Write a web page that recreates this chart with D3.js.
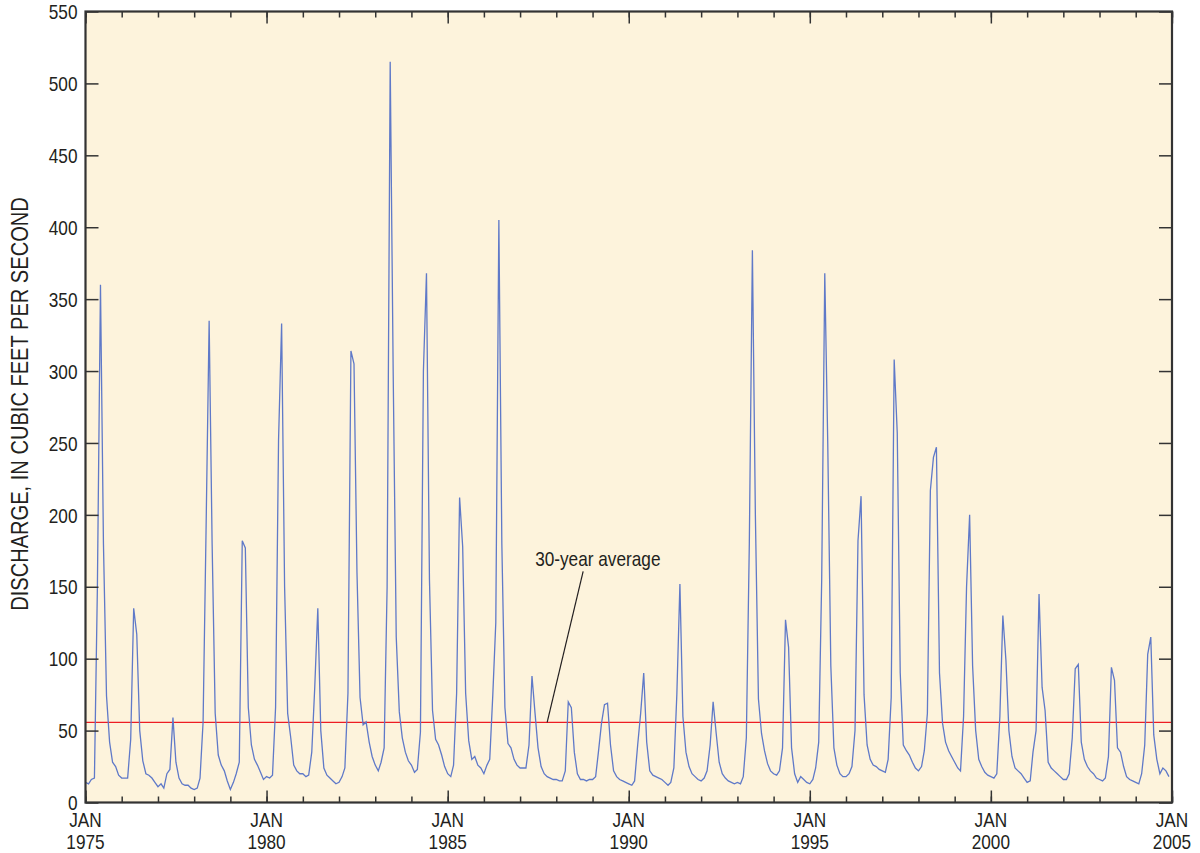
<!DOCTYPE html>
<html><head><meta charset="utf-8">
<script src="https://cdn.jsdelivr.net/npm/d3@7"></script>
<style>html,body{margin:0;padding:0;background:#fff}svg{display:block}</style>
</head><body>
<svg id="chart" width="1200" height="853"></svg>
<script>
// ---------------- data ----------------
const startYear = 1975;
const endYear = 2005;
// monthly mean discharge (cubic feet per second), Jan 1975 .. Dec 2004
const discharge = [
  /*1975*/ 14, 13, 16, 17, 150, 360, 180, 74, 42, 28, 25, 19,
  /*1976*/ 17, 17, 17, 44, 135, 117, 50, 29, 20, 19, 17, 14,
  /*1977*/ 11, 13, 10, 20, 23, 59, 28, 17, 13, 12, 12, 10,
  /*1978*/ 9, 10, 17, 56, 190, 335, 180, 62, 33, 26, 22, 15,
  /*1979*/ 9, 14, 20, 28, 182, 177, 66, 40, 30, 26, 21, 16,
  /*1980*/ 18, 17, 19, 66, 252, 333, 150, 62, 45, 26, 22, 20,
  /*1981*/ 20, 18, 19, 35, 80, 135, 50, 24, 19, 17, 15, 13,
  /*1982*/ 14, 18, 24, 76, 314, 305, 160, 73, 54, 56, 42, 32,
  /*1983*/ 26, 22, 28, 38, 150, 515, 300, 115, 63, 45, 35, 29,
  /*1984*/ 26, 21, 23, 49, 300, 368, 155, 64, 44, 40, 33, 25,
  /*1985*/ 20, 18, 26, 76, 212, 178, 76, 43, 30, 32, 26, 24,
  /*1986*/ 20, 26, 30, 75, 125, 405, 180, 66, 41, 38, 30, 26,
  /*1987*/ 24, 24, 24, 40, 88, 62, 38, 25, 20, 18, 17, 16,
  /*1988*/ 16, 15, 15, 22, 70, 66, 35, 20, 16, 16, 15, 16,
  /*1989*/ 16, 18, 35, 55, 68, 69, 40, 22, 18, 16, 15, 14,
  /*1990*/ 13, 12, 15, 40, 62, 90, 42, 22, 19, 18, 17, 16,
  /*1991*/ 14, 12, 14, 24, 75, 152, 60, 35, 25, 20, 18, 16,
  /*1992*/ 15, 17, 22, 40, 70, 48, 28, 20, 17, 15, 14, 13,
  /*1993*/ 14, 13, 18, 45, 180, 384, 200, 72, 48, 36, 27, 22,
  /*1994*/ 20, 19, 22, 38, 127, 108, 38, 20, 14, 18, 16, 14,
  /*1995*/ 13, 16, 24, 42, 155, 368, 250, 95, 38, 26, 20, 18,
  /*1996*/ 18, 20, 25, 50, 182, 213, 75, 40, 30, 26, 25, 23,
  /*1997*/ 22, 21, 30, 73, 308, 257, 90, 40, 36, 33, 28, 24,
  /*1998*/ 22, 25, 36, 62, 217, 240, 247, 90, 55, 42, 36, 32,
  /*1999*/ 28, 24, 22, 60, 150, 200, 95, 50, 30, 25, 21, 19,
  /*2000*/ 18, 17, 20, 60, 130, 99, 50, 32, 24, 22, 20, 17,
  /*2001*/ 14, 15, 35, 50, 145, 80, 64, 28, 24, 22, 20, 18,
  /*2002*/ 16, 16, 20, 45, 93, 96, 42, 30, 25, 22, 20, 17,
  /*2003*/ 16, 15, 17, 32, 94, 85, 38, 35, 25, 18, 16, 15,
  /*2004*/ 14, 13, 20, 40, 103, 115, 47, 30, 20, 24, 22, 18
];
const averageDischarge = 55.7;           // 30-year average
const yTickValues = [0, 50, 100, 150, 200, 250, 300, 350, 400, 450, 500, 550];
const yMax = 550;
const labeledYears = [1975, 1980, 1985, 1990, 1995, 2000, 2005];
const monthLabel = "JAN";
const yTitle = "DISCHARGE, IN CUBIC FEET PER SECOND";
const annotationText = "30-year average";
const annotationDate = new Date(1987, 9, 1);   // where the leader meets the average line

// ---------------- layout ----------------
const svg = d3.select("#chart");
const L = 85.5, R = 1172, T = 11.5, B = 802.5;
const INK = "#231f20";

// font: prefer a narrow face, otherwise condense a regular one
function measure(fam) {
  const t = svg.append("text").attr("font-family", fam).attr("font-size", 20).text("DISCHARGE 1975 average");
  const w = t.node().getComputedTextLength(); t.remove(); return w;
}
const wN = measure("'Liberation Sans Narrow'"), wR = measure("'Liberation Sans'");
const narrowOK = wN < wR * 0.9;
const FONT = narrowOK ? "'Liberation Sans Narrow','Arial Narrow',sans-serif" : "'Liberation Sans',Arial,sans-serif";
const SX = narrowOK ? 1 : 0.82;

function label(parent, x, y, str, anchor, size, rot) {
  return parent.append("text")
    .attr("transform", `translate(${x},${y})${rot ? ` rotate(${rot})` : ""} scale(${SX},1)`)
    .attr("text-anchor", anchor).attr("font-size", size)
    .attr("font-family", FONT).attr("fill", INK).text(str);
}

const x = d3.scaleTime().domain([new Date(startYear, 0, 1), new Date(endYear, 0, 1)]).range([L, R]);
const y = d3.scaleLinear().domain([0, yMax]).range([B, T]);

const series = discharge.map((v, i) => ({ date: new Date(startYear, i, 1), value: v }));

// plot background
svg.append("rect").attr("x", L).attr("y", T).attr("width", R - L).attr("height", B - T).attr("fill", "#fdf3dc");

// average line
svg.append("line")
  .attr("x1", L).attr("x2", R).attr("y1", y(averageDischarge)).attr("y2", y(averageDischarge))
  .attr("stroke", "#ed1c24").attr("stroke-width", 1.2);

// data line
svg.append("path").datum(series)
  .attr("fill", "none").attr("stroke", "#5f79c8").attr("stroke-width", 1.3).attr("stroke-linejoin", "miter")
  .attr("d", d3.line().x(d => x(d.date)).y(d => y(d.value)));

// axes (ticks inward)
const allYears = d3.range(startYear, endYear + 1).map(yr => new Date(yr, 0, 1));
const bigYears = labeledYears.map(yr => new Date(yr, 0, 1));
function styleAxis(g) {
  g.select(".domain").remove();
  g.selectAll(".tick line").attr("stroke", "#333").attr("stroke-width", 1.5);
}
svg.append("g").attr("transform", `translate(0,${B})`)
  .call(d3.axisBottom(x).tickValues(allYears).tickSize(-6).tickFormat("")).call(styleAxis);
svg.append("g").attr("transform", `translate(0,${B})`)
  .call(d3.axisBottom(x).tickValues(bigYears).tickSize(-12).tickFormat("")).call(styleAxis);
svg.append("g").attr("transform", `translate(0,${T})`)
  .call(d3.axisTop(x).tickValues(allYears).tickSize(-6).tickFormat("")).call(styleAxis);
svg.append("g").attr("transform", `translate(0,${T})`)
  .call(d3.axisTop(x).tickValues(bigYears).tickSize(-12).tickFormat("")).call(styleAxis);

const yAxisL = svg.append("g").attr("transform", `translate(${L},0)`)
  .call(d3.axisLeft(y).tickValues(yTickValues).tickSize(-13).tickPadding(8)).call(styleAxis);
yAxisL.selectAll(".tick text")
  .attr("font-family", FONT).attr("font-size", 21).attr("fill", INK)
  .attr("x", -8 / SX).attr("dy", "0.34em").attr("transform", `scale(${SX},1)`);
svg.append("g").attr("transform", `translate(${R},0)`)
  .call(d3.axisRight(y).tickValues(yTickValues).tickSize(-13).tickFormat("")).call(styleAxis);

// x labels
const xl = svg.append("g");
labeledYears.forEach(yr => {
  const px = x(new Date(yr, 0, 1));
  label(xl, px, 827, monthLabel, "middle", 21);
  label(xl, px, 848.5, String(yr), "middle", 21);
});

// y title
label(svg, 28, 404, yTitle, "middle", 24.5, -90);

// frame
svg.append("rect").attr("x", L).attr("y", T).attr("width", R - L).attr("height", B - T)
  .attr("fill", "none").attr("stroke", "#333").attr("stroke-width", 2.2);

// annotation
const ax = x(annotationDate), ay = y(averageDischarge);
svg.append("line").attr("x1", ax).attr("y1", ay).attr("x2", ax + 36).attr("y2", ay - 151)
  .attr("stroke", INK).attr("stroke-width", 1.2);
label(svg, ax - 12, ay - 156, annotationText, "start", 21);
</script>
</body></html>
